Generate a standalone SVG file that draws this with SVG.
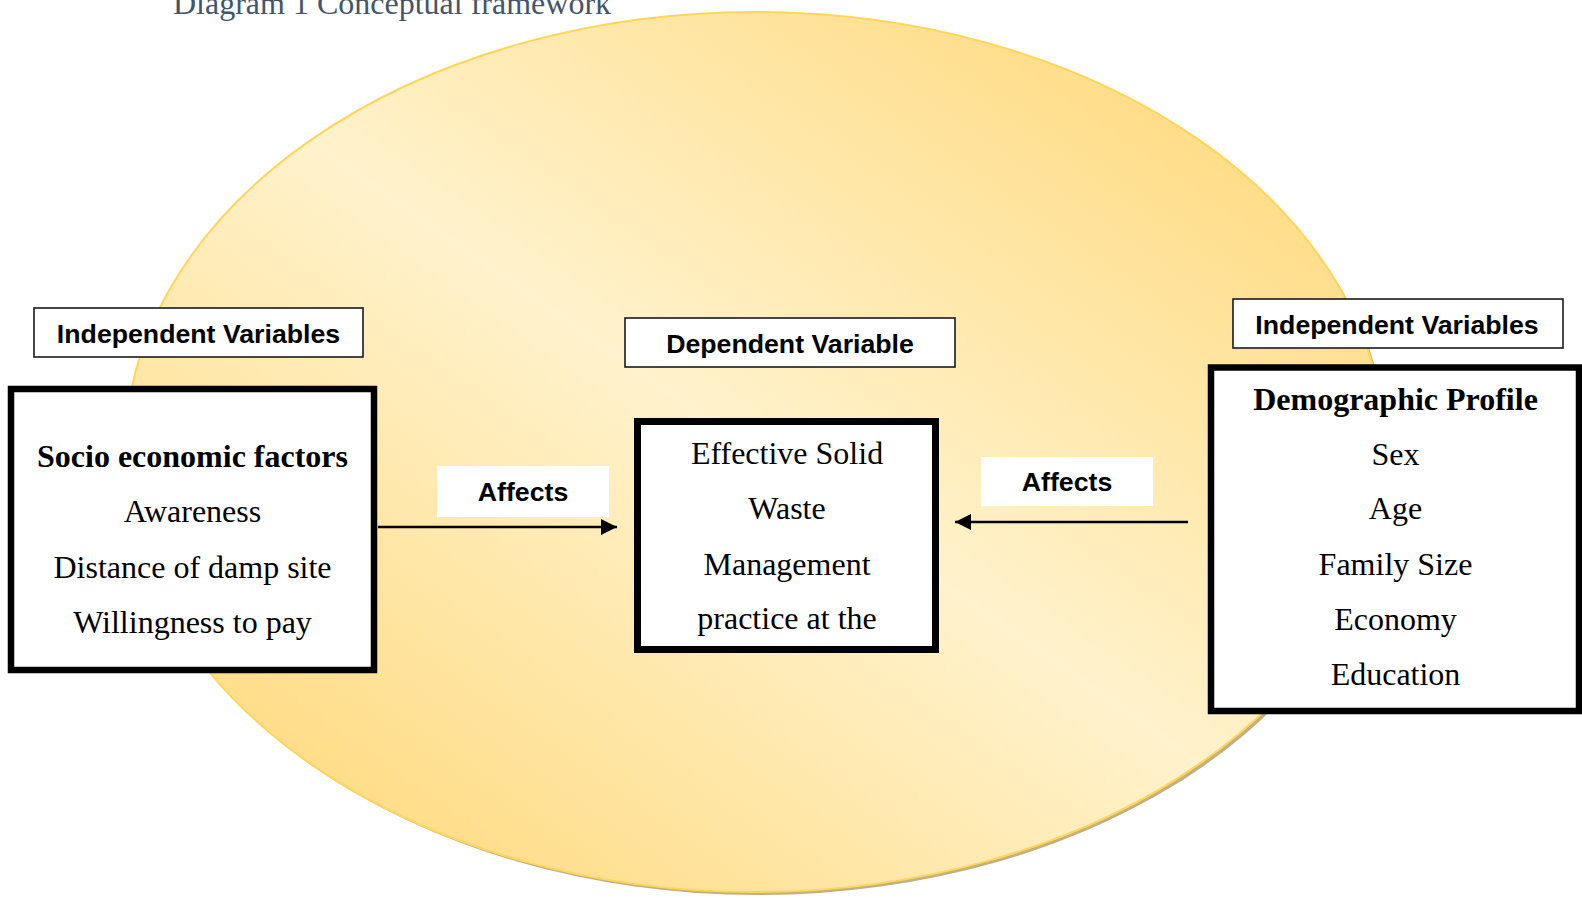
<svg xmlns="http://www.w3.org/2000/svg" width="1582" height="898" viewBox="0 0 1582 898">
<defs>
<linearGradient id="bg" x1="1" y1="0" x2="0" y2="1">
<stop offset="0" stop-color="#FFD56E"/>
<stop offset="0.5" stop-color="#FFF2CC"/>
<stop offset="1" stop-color="#FFD56E"/>
</linearGradient>
<marker id="ah" markerWidth="16" markerHeight="16" refX="16" refY="8" orient="auto" markerUnits="userSpaceOnUse">
<path d="M0,0 L16,8 L0,16 Z" fill="#000"/>
</marker>
</defs>
<style>
.lbl{fill:#fff;stroke:#1a1a1a;stroke-width:1.6}
.main{fill:#fff;stroke:#000}
.sans{font-family:"Liberation Sans",Arial,sans-serif;font-weight:bold;font-size:26.7px;fill:#000;text-anchor:middle}
.serif{font-family:"Liberation Serif","Times New Roman",serif;font-size:32px;fill:#000;text-anchor:middle}
.b{font-weight:bold}
.conn{stroke:#000;stroke-width:2.5;fill:none}
</style>
<rect width="1582" height="898" fill="#fff"/>
<text x="173" y="14" font-family="Liberation Serif, Times New Roman, serif" font-size="32" fill="#44546A">Diagram 1 Conceptual framework</text>
<g id="background">
<ellipse cx="758" cy="455" rx="630" ry="440" fill="#C2B07E"/>
<ellipse cx="755" cy="452" rx="630" ry="440" fill="url(#bg)" stroke="#FFD65C" stroke-width="2"/>
</g>
<g id="label-left">
<rect class="lbl" x="34" y="308" width="329" height="49"/>
<text class="sans" x="198.5" y="343">Independent Variables</text>
</g>
<g id="label-middle">
<rect class="lbl" x="625" y="318" width="330" height="49"/>
<text class="sans" x="790" y="353">Dependent Variable</text>
</g>
<g id="label-right">
<rect class="lbl" x="1233" y="299" width="330" height="49"/>
<text class="sans" x="1397" y="334">Independent Variables</text>
</g>
<g id="socio">
<rect class="main" x="11" y="389" width="363" height="281" stroke-width="6.5"/>
<text class="serif b" x="192.5" y="467">Socio economic factors</text>
<text class="serif" x="192.5" y="522">Awareness</text>
<text class="serif" x="192.5" y="578">Distance of damp site</text>
<text class="serif" x="192.5" y="633">Willingness to pay</text>
</g>
<g id="dependent">
<rect class="main" x="637.5" y="421.5" width="298" height="228" stroke-width="7"/>
<text class="serif" x="787" y="464">Effective Solid</text>
<text class="serif" x="787" y="519">Waste</text>
<text class="serif" x="787" y="575">Management</text>
<text class="serif" x="787" y="629">practice at the</text>
</g>
<g id="demographic">
<rect class="main" x="1211" y="367.5" width="368" height="343.5" stroke-width="6.5"/>
<text class="serif b" x="1395.5" y="410">Demographic Profile</text>
<text class="serif" x="1395.5" y="465">Sex</text>
<text class="serif" x="1395.5" y="519">Age</text>
<text class="serif" x="1395.5" y="575">Family Size</text>
<text class="serif" x="1395.5" y="630">Economy</text>
<text class="serif" x="1395.5" y="685">Education</text>
</g>
<g id="connectors">
<line class="conn" x1="378" y1="527" x2="617" y2="527" marker-end="url(#ah)"/>
<line class="conn" x1="1188" y1="522" x2="955" y2="522" marker-end="url(#ah)"/>
</g>
<g id="affects-left">
<rect x="437" y="466" width="172" height="51" fill="#fff"/>
<text class="sans" x="523" y="501">Affects</text>
</g>
<g id="affects-right">
<rect x="981" y="457" width="172" height="49" fill="#fff"/>
<text class="sans" x="1067" y="491">Affects</text>
</g>
</svg>
